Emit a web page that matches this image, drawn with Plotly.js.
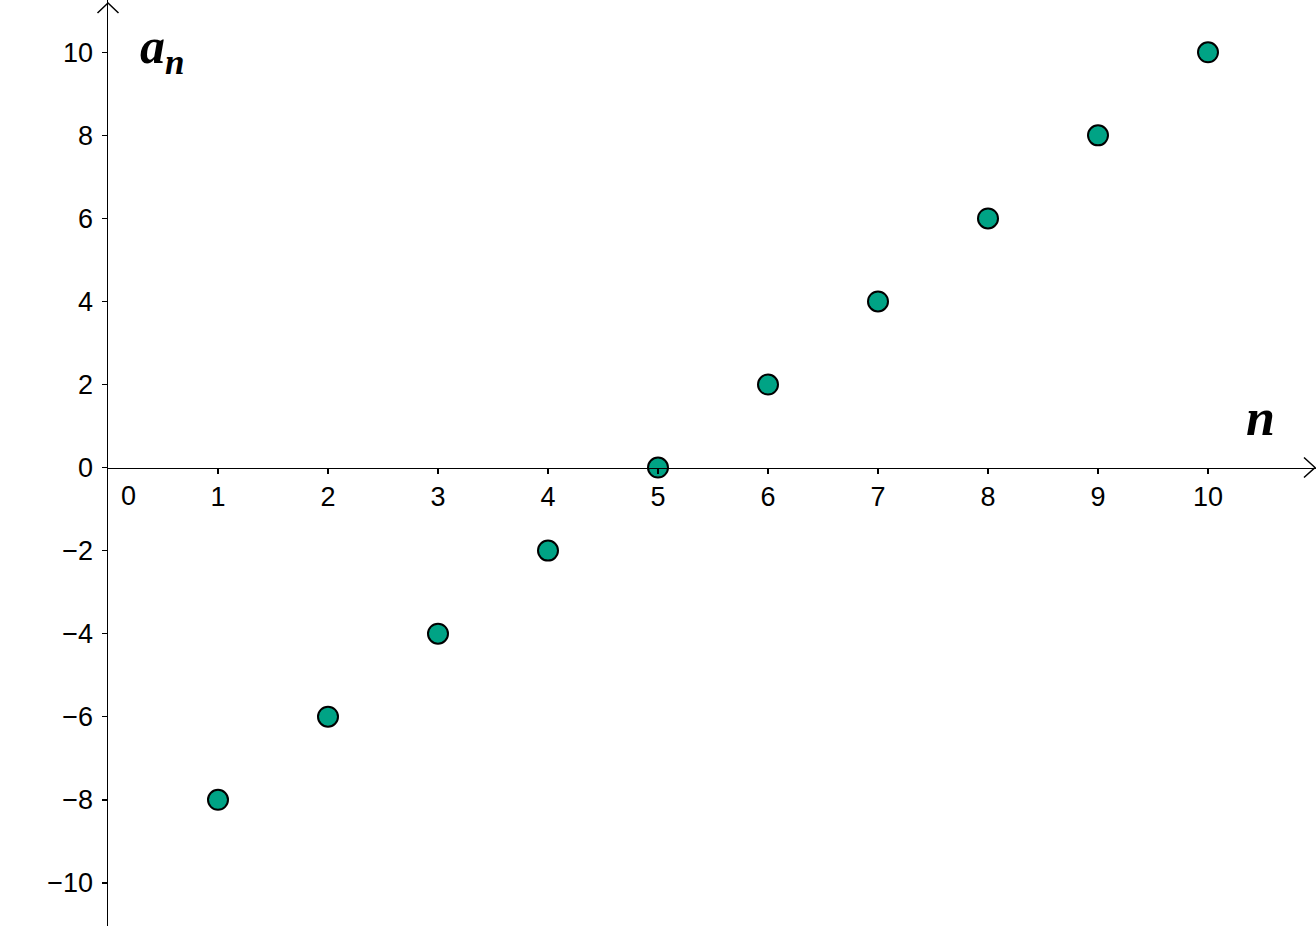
<!DOCTYPE html>
<html>
<head>
<meta charset="utf-8">
<script src="https://cdn.plot.ly/plotly-3.0.1.min.js"></script>
<style>html,body{margin:0;padding:0;background:#fff;}#chart{width:1316px;height:926px;}</style>
</head>
<body>
<div id="chart"></div>
<script>
// Data
const n = [1, 2, 3, 4, 5, 6, 7, 8, 9, 10];
const an = [-8, -6, -4, -2, 0, 2, 4, 6, 8, 10];
const xTicks = [1, 2, 3, 4, 5, 6, 7, 8, 9, 10];
const yTicks = [-10, -8, -6, -4, -2, 0, 2, 4, 6, 8, 10];

const W = 1316, H = 926, ML = 108;
const xRange = [0, (W - ML) / 110];
const yRange = [-11.04, 11.26];
const zeroFrac = (0 - yRange[0]) / (yRange[1] - yRange[0]);
const PW = W - ML;

const tickFont = {family: '"Liberation Sans", Arial, sans-serif', size: 27, color: '#000'};

const trace = {
  x: n, y: an, type: 'scatter', mode: 'markers',
  marker: {size: 20, color: 'rgb(0,163,133)', line: {color: '#000', width: 2}},
  hoverinfo: 'x+y', cliponaxis: false
};

// arrowheads (chevrons) in paper coordinates
const px = v => v / PW, py = v => v / H;
const yArrow = `M ${px(-10.5)} ${1 - py(13)} L 0 ${1 - py(3)} L ${px(10.5)} ${1 - py(13)}`;
const xTipX = 1 - px(1);
const xArrow = `M ${xTipX - px(11)} ${zeroFrac + py(10)} L ${xTipX} ${zeroFrac} L ${xTipX - px(11)} ${zeroFrac - py(10)}`;

const layout = {
  width: W, height: H,
  margin: {l: ML, r: 0, t: 0, b: 0, pad: 0},
  paper_bgcolor: '#fff', plot_bgcolor: '#fff',
  showlegend: false,
  xaxis: {
    range: xRange, anchor: 'free', position: zeroFrac,
    showline: true, linecolor: '#000', linewidth: 1.5,
    showgrid: false, zeroline: false,
    tickmode: 'array', tickvals: xTicks, ticktext: xTicks.map(String),
    ticks: 'outside', ticklen: 5, tickwidth: 1.5, tickcolor: '#000',
    tickfont: tickFont, fixedrange: true
  },
  yaxis: {
    range: yRange, showline: true, linecolor: '#000', linewidth: 1.5,
    showgrid: false, zeroline: false,
    tickmode: 'array', tickvals: yTicks, ticktext: yTicks.map(v => v < 0 ? '\u2212' + Math.abs(v) : String(v)),
    ticks: 'outside', ticklen: 5, tickwidth: 1.5, tickcolor: '#000',
    tickfont: tickFont, fixedrange: true, ticklabelstandoff: 3
  },
  shapes: [
    {type: 'path', xref: 'paper', yref: 'paper', path: yArrow, line: {color: '#000', width: 1.5}},
    {type: 'path', xref: 'paper', yref: 'paper', path: xArrow, line: {color: '#000', width: 1.5}}
  ],
  annotations: [
    {x: 0, y: 0, xref: 'x', yref: 'y', text: '0', showarrow: false, xshift: 20, yshift: -28,
     font: tickFont},
    {x: 0.27, y: 10.05, xref: 'x', yref: 'y', xanchor: 'left', yanchor: 'middle', showarrow: false,
     text: '<b><i>a</i></b><sub><b><i>n</i></b></sub>',
     font: {family: '"Liberation Serif", "DejaVu Serif", serif', size: 50, color: '#000'}},
    {x: 10.33, y: 1.2, xref: 'x', yref: 'y', xanchor: 'left', yanchor: 'middle', showarrow: false,
     text: '<b><i>n</i></b>',
     font: {family: '"Liberation Serif", "DejaVu Serif", serif', size: 52, color: '#000'}}
  ]
};

Plotly.newPlot('chart', [trace], layout, {displayModeBar: false, staticPlot: true});
</script>
</body>
</html>
